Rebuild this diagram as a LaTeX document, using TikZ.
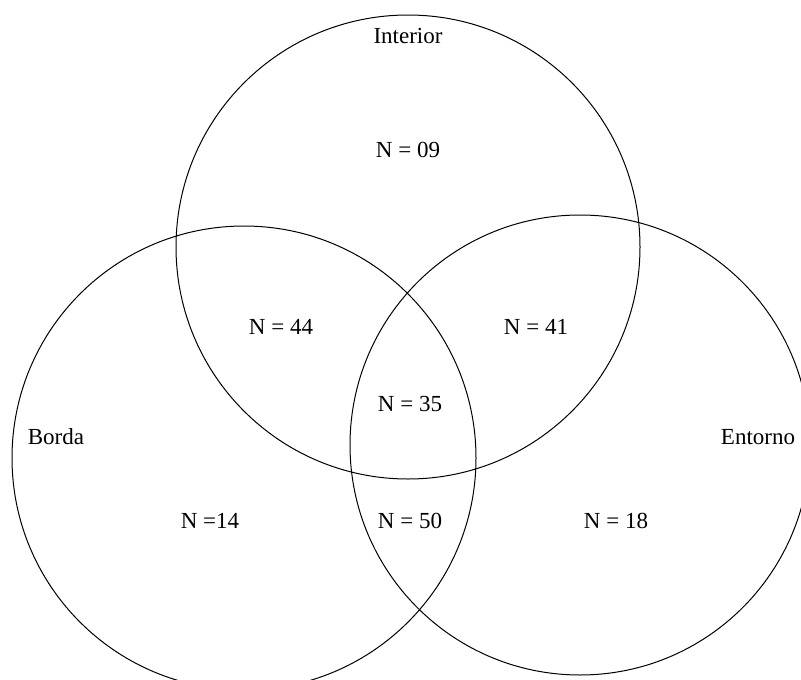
\documentclass[tikz,border=0pt]{standalone}
\usepackage{fontspec}
\setmainfont{Liberation Serif}
\usetikzlibrary{positioning}

\begin{document}
\begin{tikzpicture}[x=1pt, y=-1pt, auto]
\tikzstyle{every node}=[font=\fontsize{23}{27}\selectfont]
\tikzstyle{set}=[circle, draw, line width=1pt, inner sep=0pt, minimum size=464pt]
   \clip (0,0) rectangle (801,680);
   \node[set](interior) at (408,247){};
   \node[set](borda) at (244,458){};
   \node[set, minimum size=460pt](entorno) at (580,445){};
   \node(tInterior) at (408,36){Interior};
   \node(tBorda) at (56,437){Borda};
   \node(tEntorno) at (758,437){Entorno};
   \node(n1) at (408,150){N = 09};
   \node(n2) at (281,327){N = 44};
   \node(n3) at (536,327){N = 41};
   \node(n4) at (410,404){N = 35};
\node(n5) at (210,521){N =14};
\node(n6) at (410,521){N = 50};
\node(n7) at (616,521){N = 18};
 \end{tikzpicture}
\end{document}
